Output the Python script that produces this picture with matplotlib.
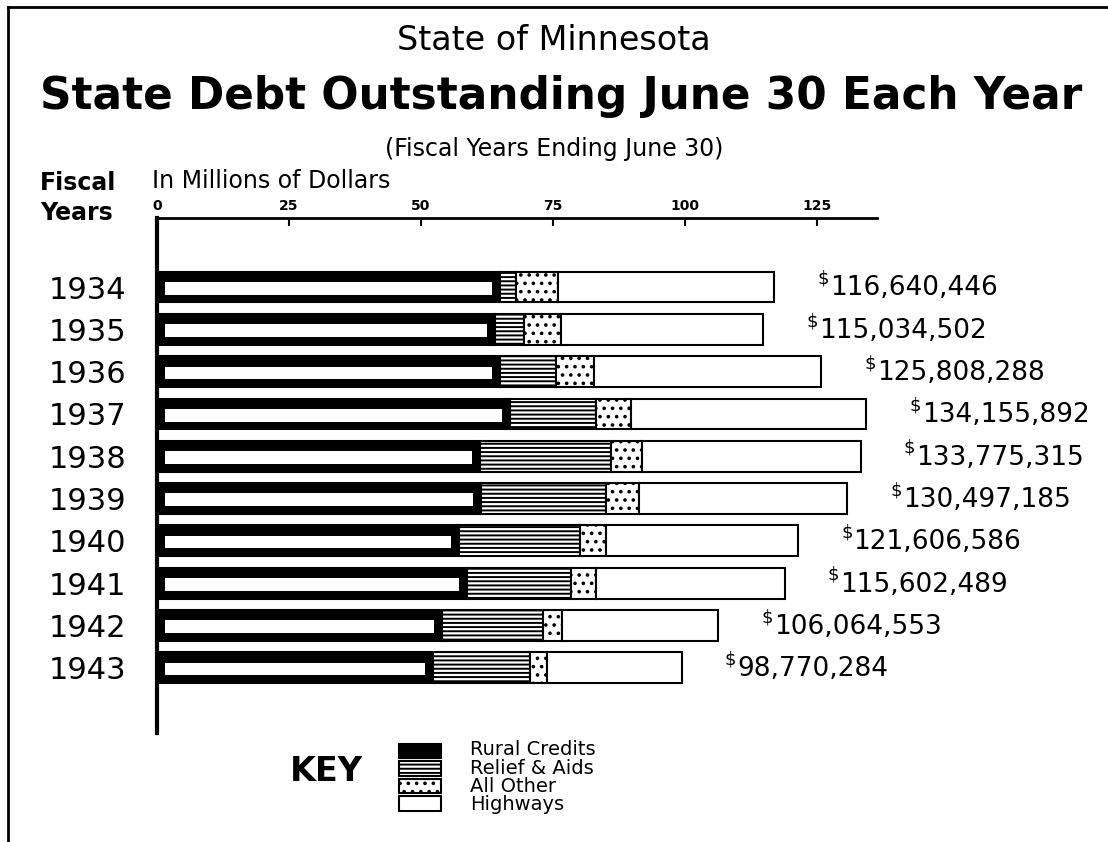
import numpy as np
import matplotlib.pyplot as plt
from matplotlib.patches import Rectangle
from matplotlib.lines import Line2D

plt.rcParams['font.family'] = ['DejaVu Sans']
plt.rcParams['hatch.linewidth'] = 1.4

# fiscal years and debt by purpose, millions of dollars
years    = ['1934', '1935', '1936', '1937', '1938', '1939', '1940', '1941', '1942', '1943']
rural    = [65.0, 64.0, 65.0, 66.9, 61.2, 61.4, 57.2, 58.7, 54.0, 52.3]
relief   = [3.0, 5.5, 10.6, 16.3, 24.8, 23.7, 22.9, 19.7, 19.1, 18.4]
other    = [8.0, 7.0, 7.2, 6.6, 5.9, 6.1, 4.9, 4.7, 3.6, 3.2]
highways = [40.9, 38.3, 43.0, 44.5, 41.4, 39.5, 36.4, 35.8, 29.6, 25.5]
totals   = [116640446, 115034502, 125808288, 134155892, 133775315,
            130497185, 121606586, 115602489, 106064553, 98770284]
ticks    = [0, 25, 50, 75, 100, 125]
keys     = ['Rural Credits', 'Relief & Aids', 'All Other', 'Highways']

fig = plt.figure(figsize=(11.08, 8.42), dpi=100)
ax = fig.add_axes([0.1417, 0.129, 0.65, 0.612])

y = np.arange(len(years))
h = 0.73
rural = np.array(rural)
relief = np.array(relief)
other = np.array(other)
highways = np.array(highways)
ends = rural + relief + other + highways

# rural credits: solid black with a white streak inside
ax.barh(y, rural, height=h, color='black', edgecolor='black', lw=1.5)
ax.barh(y + 0.03, rural - 3.0, left=1.5, height=0.3, color='white', lw=0)
ax.barh(y, relief, left=rural, height=h, color='white', edgecolor='black',
        hatch='----', lw=1.5)
ax.barh(y, other, left=rural + relief, height=h, color='white', edgecolor='black',
        hatch='..', lw=1.5)
ax.barh(y, highways, left=rural + relief + other, height=h, color='white',
        edgecolor='black', lw=1.5)

for i, t in enumerate(totals):
	ax.annotate('\\$', xy=(ends[i], i), xytext=(31, 6), textcoords='offset points',
	            fontsize=13, va='center', ha='left')
	ax.annotate(f'{t:,}', xy=(ends[i], i), xytext=(40, -1), textcoords='offset points',
	            fontsize=19, va='center', ha='left')

ax.set_xlim(0, 136.4)
ax.set_ylim(10.55, -1.63)
ax.xaxis.tick_top()
ax.set_xticks(ticks)
ax.set_xticklabels([str(t) for t in ticks], fontsize=10, fontweight='bold')
ax.tick_params(axis='x', direction='in', length=6, width=1.5, pad=4)
ax.set_yticks(y)
ax.set_yticklabels(years, fontsize=22)
ax.tick_params(axis='y', length=0, pad=22)
ax.spines['right'].set_visible(False)
ax.spines['bottom'].set_visible(False)
ax.spines['top'].set_linewidth(2)
ax.spines['left'].set_linewidth(3)

# titles and headers
fig.text(0.50, 0.952, 'State of Minnesota', ha='center', va='center', fontsize=24)
fig.text(0.506, 0.885, 'State Debt Outstanding June 30 Each Year', ha='center',
         va='center', fontsize=31.5, fontweight='bold')
fig.text(0.50, 0.823, '(Fiscal Years Ending June 30)', ha='center', va='center',
         fontsize=17)
fig.text(0.036, 0.783, 'Fiscal', ha='left', va='center', fontsize=17, fontweight='bold')
fig.text(0.036, 0.747, 'Years', ha='left', va='center', fontsize=17, fontweight='bold')
fig.text(0.137, 0.785, 'In Millions of Dollars', ha='left', va='center', fontsize=17)

# key
fig.text(0.262, 0.084, 'KEY', ha='left', va='center', fontsize=24, fontweight='bold')
styles = [dict(facecolor='black'), dict(facecolor='white', hatch='----'),
          dict(facecolor='white', hatch='..'), dict(facecolor='white')]
for k, st in enumerate(styles):
	yy = 0.108 - k * 0.0207
	fig.add_artist(Rectangle((0.360, yy - 0.0085), 0.038, 0.017, transform=fig.transFigure,
	                         edgecolor='black', lw=1.5, **st))
fig.text(0.424, 0.077, '\n'.join(keys), ha='left', va='center', fontsize=14,
         linespacing=0.95)

# frame lines
fig.add_artist(Line2D([0.007, 0.007], [0, 0.992], transform=fig.transFigure, color='black', lw=2))
fig.add_artist(Line2D([0.007, 1.0], [0.992, 0.992], transform=fig.transFigure, color='black', lw=2))

fig.savefig('out.png', dpi=100, facecolor='white')
